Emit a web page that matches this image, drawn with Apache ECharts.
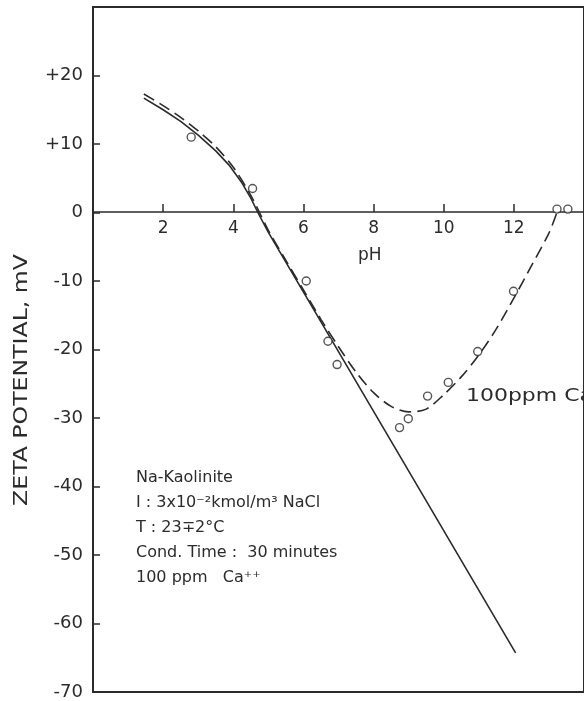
<!DOCTYPE html>
<html>
<head>
<meta charset="utf-8">
<script src="https://cdn.jsdelivr.net/npm/echarts@6/dist/echarts.min.js"></script>
<style>
html,body{margin:0;padding:0;background:#fff;}
#main{width:584px;height:701px;}
</style>
</head>
<body>
<div id="main"></div>
<script>
// solid curve (no Ca)
var phSolid   = [1.45, 2.0, 2.5, 3.0, 3.5, 3.9, 4.25, 4.5, 4.7, 5.0, 12.05];
var zetaSolid = [16.7, 15.0, 13.3, 11.3, 9.0, 6.8, 4.3, 2.1, 0.0, -2.9, -64.3];
// dashed curve, 100 ppm Ca++
var phDash   = [1.45, 2.0, 2.5, 3.0, 3.5, 4.0, 4.5, 5.0, 5.5, 6.0, 6.5, 7.0, 7.5, 8.0, 8.5, 9.0, 9.5, 10.0, 10.5, 11.0, 11.5, 12.0, 12.5, 13.0, 13.25];
var zetaDash = [17.3, 15.6, 13.9, 11.9, 9.6, 6.6, 2.5, -2.6, -7.0, -11.3, -15.6, -19.6, -23.3, -26.3, -28.3, -29.1, -28.7, -26.6, -24.0, -20.8, -17.0, -12.5, -7.8, -3.0, 0.3];
// measured points
var phPts   = [2.8, 4.55, 6.08, 6.7, 6.96, 8.74, 8.99, 9.54, 10.13, 10.97, 11.99, 13.23, 13.54];
var zetaPts = [11.0, 3.5, -10.0, -18.8, -22.2, -31.4, -30.1, -26.8, -24.8, -20.3, -11.5, 0.5, 0.5];

var infoLines = ['Na-Kaolinite', 'I : 3x10\u207B\u00B2kmol/m\u00B3 NaCl', 'T : 23\u22132\u00B0C', 'Cond. Time :  30 minutes', '100 ppm   Ca\u207A\u207A'];

function pairs(xs, ys){
  var r = [];
  for (var i = 0; i < xs.length; i++) r.push([xs[i], ys[i]]);
  return r;
}

var ink = '#2b2b2b';
var font = 'DejaVu Sans';
var chart = echarts.init(document.getElementById('main'));

var graphics = [
  { type: 'text', left: 358, top: 247, style: { text: 'pH', fontSize: 17, fontFamily: font, fill: ink } },
  { type: 'text', x: 22, y: 380, rotation: Math.PI / 2, scaleX: 1.18,
    style: { text: 'ZETA POTENTIAL, mV', fontSize: 20, fontFamily: font, fill: ink, align: 'center', verticalAlign: 'middle' } },
  { type: 'text', left: 466, top: 387, scaleX: 1.22, style: { text: '100ppm Ca\u207A\u207A', fontSize: 18, fontFamily: font, fill: ink } }
];
for (var i = 0; i < infoLines.length; i++) {
  graphics.push({ type: 'text', left: 136, top: 470 + i * 25,
    style: { text: infoLines[i], fontSize: 16, fontFamily: font, fill: ink } });
}

chart.setOption({
  animation: false,
  grid: { left: 93, right: -5, top: 7, bottom: 8, show: true, borderColor: ink, borderWidth: 2, backgroundColor: 'transparent' },
  xAxis: {
    type: 'value', min: 0, max: 14, interval: 2,
    offset: -480,
    axisLine: { onZero: false, lineStyle: { color: ink, width: 1.5 } },
    axisTick: { inside: true, length: 8, lineStyle: { color: ink, width: 1.5 } },
    axisLabel: { showMinLabel: false, showMaxLabel: false, margin: 8, fontSize: 17, fontFamily: font, color: ink },
    splitLine: { show: false }
  },
  yAxis: {
    type: 'value', min: -70, max: 30, interval: 10,
    axisLine: { lineStyle: { color: ink, width: 2 } },
    axisTick: { inside: true, length: 7, lineStyle: { color: ink, width: 1.5 } },
    axisLabel: { showMaxLabel: false, margin: 10, fontSize: 18, fontFamily: font, color: ink,
      formatter: function (v) { return v > 0 ? '+' + v : String(v); } },
    splitLine: { show: false }
  },
  graphic: graphics,
  series: [
    { type: 'line', data: pairs(phSolid, zetaSolid), smooth: false, showSymbol: false,
      lineStyle: { color: ink, width: 1.6 } },
    { type: 'line', data: pairs(phDash, zetaDash), smooth: 0.3, showSymbol: false,
      lineStyle: { color: ink, width: 1.6, type: [12, 6] } },
    { type: 'scatter', data: pairs(phPts, zetaPts), symbol: 'circle', symbolSize: 8,
      itemStyle: { color: '#fff', borderColor: ink, borderWidth: 1.4 }, z: 5 }
  ]
});
</script>
</body>
</html>
